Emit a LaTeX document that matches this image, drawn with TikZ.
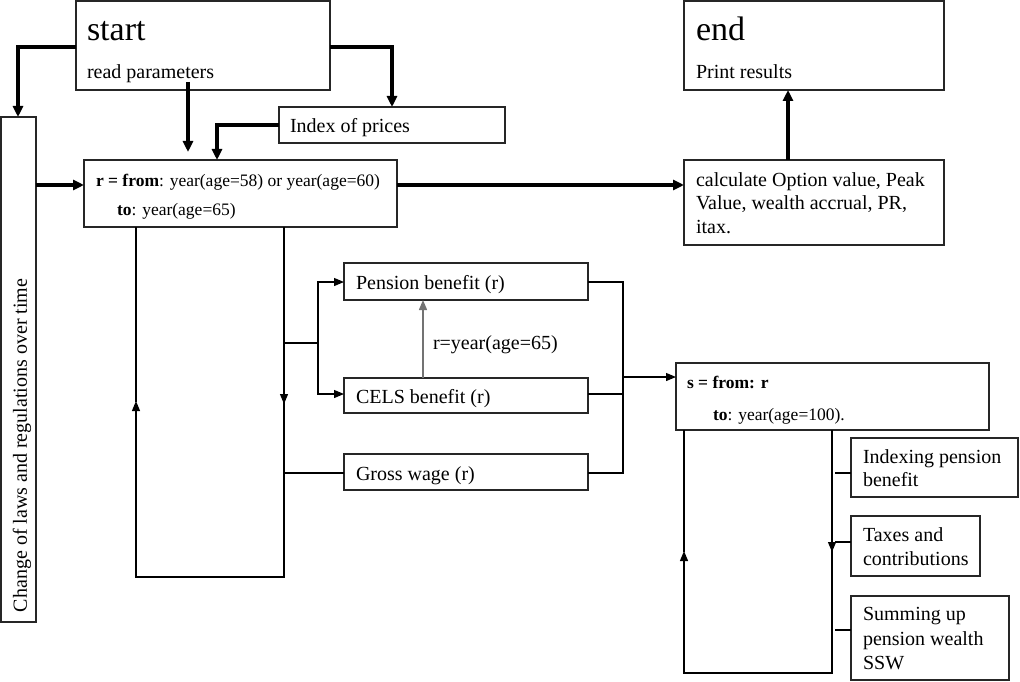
\documentclass[tikz,border=0pt]{standalone}
\usepackage{fontspec}
\setmainfont{Liberation Serif}
\usetikzlibrary{arrows.meta,calc}
\begin{document}
\begin{tikzpicture}[x=1pt,y=-1pt,
  box/.style={draw=black!85, line width=1.2pt, anchor=north west, inner sep=0pt, outer sep=0pt},
  txt/.style={anchor=base west, inner sep=0pt, outer sep=0pt, font=\fontsize{20}{24}\selectfont},
  smalltxt/.style={anchor=base west, inner sep=0pt, outer sep=0pt, font=\fontsize{17.5}{20}\selectfont},
  bigtxt/.style={anchor=base west, inner sep=0pt, outer sep=0pt, font=\fontsize{34}{40}\selectfont},
  thickline/.style={line width=3.2pt},
  thinline/.style={line width=1.2pt},
  arr/.style={-{Triangle[length=11pt,width=10pt]}},
  sarr/.style={-{Triangle[length=10pt,width=8pt]}},
]
\useasboundingbox (0,0) rectangle (1020,682);

% boxes
\node[box, minimum width=254pt, minimum height=89pt] (start) at (76,1) {};
\node[box, minimum width=260pt, minimum height=89pt] (endb) at (684,1) {};
\node[box, minimum width=226pt, minimum height=36pt] (index) at (279,107) {};
\node[box, minimum width=313pt, minimum height=67pt] (rbox) at (84,160) {};
\node[box, minimum width=260pt, minimum height=85pt] (calc) at (684,160) {};
\node[box, minimum width=35pt, minimum height=505pt] (change) at (1,117) {};
\node[box, minimum width=244pt, minimum height=37pt] (pension) at (344,263) {};
\node[box, minimum width=244pt, minimum height=35pt] (cels) at (344,378) {};
\node[box, minimum width=244pt, minimum height=36pt] (gross) at (344,454) {};
\node[box, minimum width=313pt, minimum height=67pt] (sbox) at (676,363) {};
\node[box, minimum width=167pt, minimum height=59pt] (idx) at (851,438) {};
\node[box, minimum width=129pt, minimum height=60pt] (tax) at (851,516) {};
\node[box, minimum width=158pt, minimum height=84pt] (sum) at (851,596) {};

% texts
\node[bigtxt] (starttxt) at (87,41) {start};
\node[txt] (readtxt) at (87,79) {read parameters};
\node[bigtxt] (endtxt) at (696,41) {end};
\node[txt] (printtxt) at (696,79) {Print results};
\node[txt] (indextxt) at (290,132) {Index of prices};
\node[smalltxt] (rline1) at (96,186) {\textbf{r = from}: year(age=58) or year(age=60)};
\node[smalltxt] (rline2) at (117,215) {\textbf{to}: year(age=65)};
\node[txt] (calc1) at (696,186) {calculate Option value, Peak};
\node[txt] (calc2) at (696,209.5) {Value, wealth accrual, PR,};
\node[txt] (calc3) at (696,233) {itax.};
\node[txt, rotate=90] (changetxt) at (27,612) {Change of laws and regulations over time};
\node[txt] (pentxt) at (356,289) {Pension benefit (r)};
\node[txt] (celstxt) at (356,403) {CELS benefit (r)};
\node[txt] (grosstxt) at (356,480) {Gross wage (r)};
\node[txt] (condtxt) at (433,349) {r=year(age=65)};
\node[smalltxt] (sline1) at (687,388) {\textbf{s = from: r}};
\node[smalltxt] (sline2) at (713,420) {\textbf{to}: year(age=100).};
\node[txt] (idx1) at (863,463) {Indexing pension};
\node[txt] (idx2) at (863,486) {benefit};
\node[txt] (tax1) at (863,541) {Taxes and};
\node[txt] (tax2) at (863,565) {contributions};
\node[txt] (sum1) at (863,620) {Summing up};
\node[txt] (sum2) at (863,645) {pension wealth};
\node[txt] (sum3) at (863,669) {SSW};

% coordinates
\coordinate (sl) at (18,47);
\coordinate (sr) at (392,47);
\coordinate (il) at (217,125);
\coordinate (la) at (136,577);
\coordinate (lb) at (284,577);
\coordinate (br) at (284,343);
\coordinate (bt) at (318,282);
\coordinate (bb) at (318,394);
\coordinate (bm) at (318,343);
\coordinate (gw) at (284,473);
\coordinate (rt) at (623,282);
\coordinate (rb) at (623,473);
\coordinate (rc) at (623,394);
\coordinate (rm) at (623,377);
\coordinate (sa) at (684,673);
\coordinate (sb) at (832,673);

% thick connectors
\draw[thickline, arr] (start.west |- sl) -- (sl) -- (sl |- change.north);
\draw[thickline, arr] (start.east |- sr) -- (sr) -- (sr |- index.north);
\draw[thickline, arr] ([xshift=-15pt,yshift=8pt]start.south) -- ([xshift=-15pt,yshift=8pt]start.south |- rbox.north);
\draw[thickline, arr] (index.west |- il) -- (il) -- (il |- rbox.north);
\draw[thickline, arr] (change.east |- 0,185) -- (rbox.west |- 0,185);
\draw[thickline, arr] (rbox.east |- 0,185) -- (calc.west |- 0,185);
\draw[thickline, arr] (calc.north -| 788,0) -- (endb.south -| 788,0);

% loop under r box
\draw[thinline, sarr] (rbox.south -| lb) -- (284,404);
\draw[thinline] (284,400) -- (lb) -- (la) -- (136,404);
\draw[thinline, sarr] (136,412) -- (136,401);
\draw[thinline] (136,402) -- (rbox.south -| la);

% branches
\draw[thinline] (br) -- (bm);
\draw[thinline, sarr] (bb) -- (bt) -- (pension.west |- bt);
\draw[thinline, sarr] (bt) -- (bb) -- (cels.west |- bb);
\draw[thinline] (gw) -- (gross.west |- gw);
\draw[line width=1.4pt, black!55, sarr] (cels.north -| 423,0) -- (pension.south -| 423,0);

% merge to s box
\draw[thinline] (pension.east |- rt) -- (rt) -- (rb) -- (gross.east |- rb);
\draw[thinline] (cels.east |- rc) -- (rc);
\draw[thinline, sarr] (rm) -- (sbox.west |- rm);

% loop under s box
\draw[thinline, sarr] (sbox.south -| sb) -- (832,552);
\draw[thinline] (832,549) -- (sb) -- (sa) -- (684,553);
\draw[thinline, sarr] (684,562) -- (684,551);
\draw[thinline] (684,552) -- (sbox.south -| sa);

% ticks
\draw[thinline] (835,473) -- (idx.west |- 0,473);
\draw[thinline] (835,542) -- (tax.west |- 0,542);
\draw[thinline] (835,630) -- (sum.west |- 0,630);
\end{tikzpicture}
\end{document}
